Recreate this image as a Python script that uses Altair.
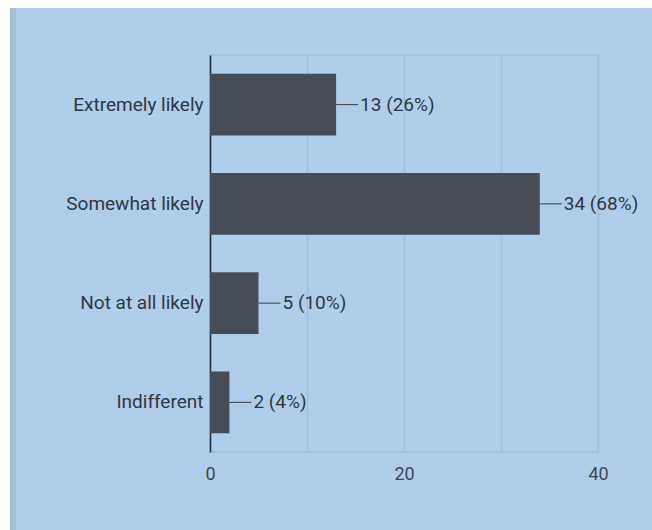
import altair as alt
import pandas as pd

categories = ["Extremely likely", "Somewhat likely", "Not at all likely", "Indifferent"]
counts = [13, 34, 5, 2]
percents = [26, 68, 10, 4]
x_ticks = [0, 10, 20, 30, 40]

df = pd.DataFrame({
    "answer": categories,
    "count": counts,
    "pct": percents,
})
df["label"] = [f"{c} ({p}%)" for c, p in zip(counts, percents)]

BG = "#b0cde9"
BAR = "#464d56"
TEXT = "#2f3842"
GRID = "#a2bfdb"
W, H = 388, 397
L, T = 210, 55

y_enc = alt.Y("answer:N", sort=categories,
              scale=alt.Scale(paddingInner=0.38, paddingOuter=0.19),
              axis=alt.Axis(title=None, ticks=False, domain=True, domainColor="#262b31",
                            domainWidth=1.5, labelFont="Roboto", labelFontSize=19,
                            labelColor=TEXT, labelPadding=7, grid=False))
x_enc = alt.X("count:Q", scale=alt.Scale(domain=[0, 40], nice=False),
              axis=alt.Axis(title=None, values=x_ticks, ticks=False, domain=False,
                            grid=True, gridColor=GRID, gridWidth=1.5, labelFlush=False,
                            labelExpr="datum.value % 20 == 0 ? datum.label : ''",
                            labelFont="Roboto", labelFontSize=18, labelColor="#3e4852",
                            labelPadding=13))

bars = alt.Chart(df).mark_bar(color=BAR, cornerRadius=0).encode(x=x_enc, y=y_enc)

connectors = alt.Chart(df).mark_rule(color="#3a4048", strokeWidth=1, x2Offset=22).encode(
    x="count:Q", x2="count:Q", y=alt.Y("answer:N", sort=categories, bandPosition=0.5)
)

labels = alt.Chart(df).mark_text(align="left", baseline="middle", dx=24, font="Roboto",
                                 fontSize=19, color=TEXT).encode(
    x="count:Q", y=alt.Y("answer:N", sort=categories), text="label:N"
)

# white page margin around the photographed slide (decoration)
left_strip = alt.Chart(df).mark_rect(color="white").encode(
    x=alt.value(-L), x2=alt.value(-L + 10), y=alt.value(-T), y2=alt.value(530 - T)
)
left_shade = alt.Chart(df).mark_rect(color="#a2c0dc").encode(
    x=alt.value(-L + 10), x2=alt.value(-L + 16), y=alt.value(-T + 8), y2=alt.value(530 - T)
)
top_strip = alt.Chart(df).mark_rect(color="white").encode(
    x=alt.value(-L), x2=alt.value(652 - L), y=alt.value(-T), y2=alt.value(-T + 8)
)

chart = alt.layer(bars, connectors, labels, left_strip, left_shade, top_strip).properties(
    width=W, height=H,
    autosize=alt.AutoSizeParams(type="none"),
    padding={"left": L, "top": T, "right": 652 - L - W, "bottom": 530 - T - H},
    background=BG,
).configure_view(stroke=GRID, strokeWidth=1.5, fill=BG)

chart.save("out.html", embed_options={"renderer": "svg", "actions": False})
